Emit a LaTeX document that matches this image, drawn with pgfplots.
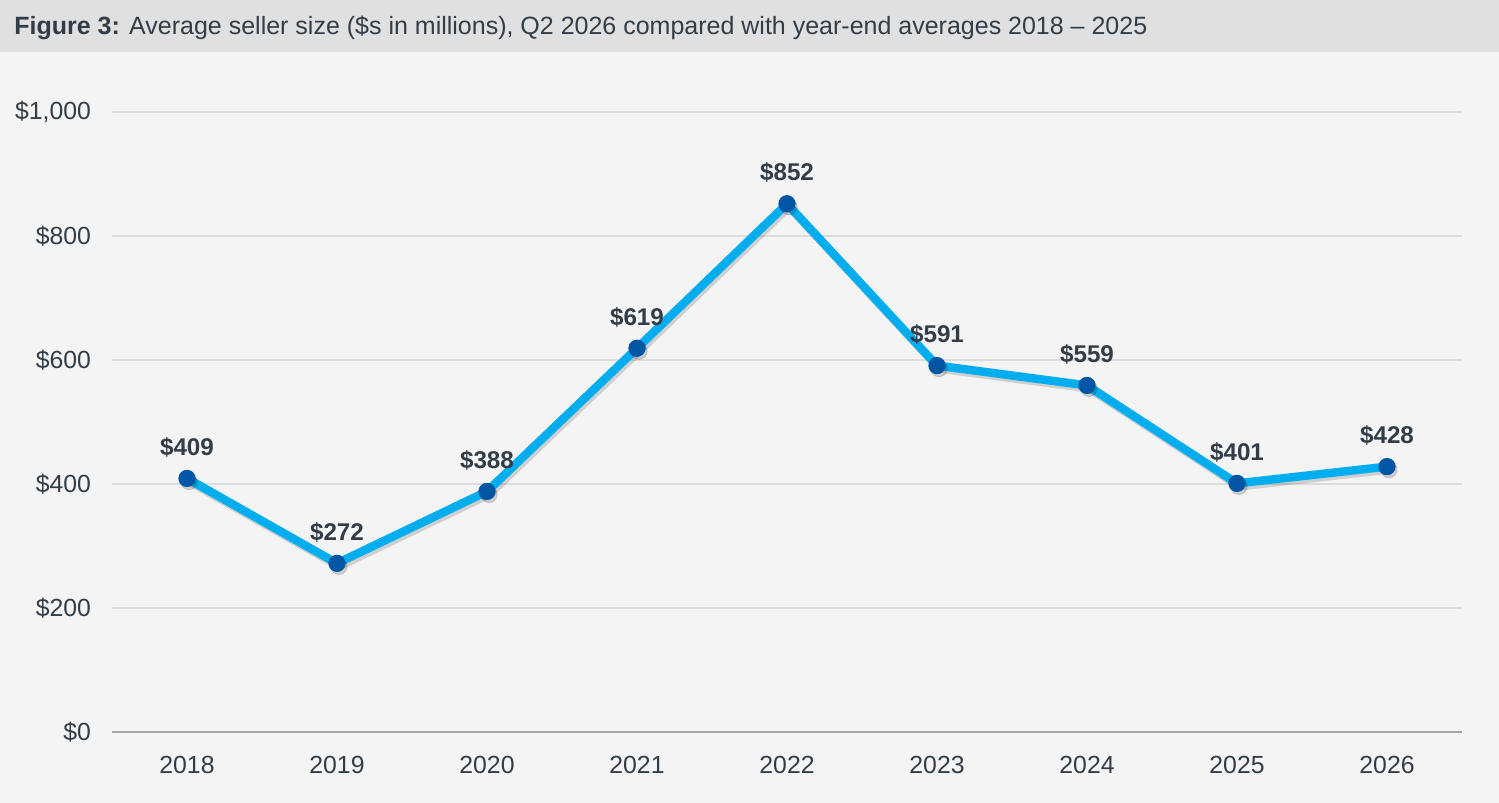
\documentclass[border=0pt]{standalone}
\usepackage{pgfplots}
\pgfplotsset{compat=1.18}
\usepackage{fontspec}
\setmainfont{Liberation Sans}
\definecolor{bg}{HTML}{F4F4F4}
\definecolor{band}{HTML}{E0E0E0}
\definecolor{txt}{HTML}{333D47}
\definecolor{grid}{HTML}{DCDCDC}
\definecolor{axl}{HTML}{A6A6A6}
\definecolor{lineblue}{HTML}{00AEEF}
\definecolor{markblue}{HTML}{0055A4}
\begin{document}
\begin{tikzpicture}[x=1pt,y=1pt]
\fill[bg] (0,0) rectangle (749.5,401.5);
\fill[band] (0,375.5) rectangle (749.5,401.5);
\path[use as bounding box] (0,0) rectangle (749.5,401.5);
\node[anchor=west,text=txt,font=\fontsize{12.5}{14}\selectfont,inner sep=0pt] at (7,387.5)
  {\textbf{Figure 3:} Average seller size (\$s in millions), Q2 2026 compared with year-end averages 2018 – 2025};
\begin{axis}[
  at={(56pt,35.5pt)}, anchor=south west,
  scale only axis, width=675pt, height=310pt,
  xmin=-0.5, xmax=8.5, ymin=0, ymax=1000,
  clip=false,
  axis line style={draw=none},
  axis x line*=bottom,
  axis y line*=left,
  xtick={0,...,8},
  xticklabels={2018,2019,2020,2021,2022,2023,2024,2025,2026},
  ytick={0,200,400,600,800,1000},
  yticklabels={\$0,\$200,\$400,\$600,\$800,{\$1,000}},
  ymajorgrids, grid style={draw=grid, line width=0.6pt},
  major tick length=0pt,
  tick label style={text=txt, font=\fontsize{12.4}{14}\selectfont},
  yticklabel style={xshift=-7pt},
  xticklabel style={yshift=-8.5pt},
  /pgf/number format/assume math mode=true,
  nodes near coords={\$\pgfmathprintnumber[assume math mode=true]{\pgfplotspointmeta}},
  every node near coord/.style={text=txt, font=\bfseries\fontsize{12.1}{14}\selectfont, anchor=center, yshift=15.5pt},
]
\addplot[draw=axl, line width=0.8pt, forget plot, nodes near coords={}] coordinates {(-0.5,0) (8.5,0)};
\addplot[draw=black, opacity=0.15, line width=4.2pt, xshift=1pt, yshift=-1.5pt, mark=*, mark size=4.1pt, mark options={fill=black,draw=black,line width=0.4pt}, nodes near coords={}, forget plot] coordinates {
(0,409) (1,272) (2,388) (3,619) (4,852) (5,591) (6,559) (7,401) (8,428)};
\addplot[draw=lineblue, line width=4.2pt, mark=*, mark size=4.1pt, mark options={fill=markblue, draw=markblue, line width=0.4pt}] coordinates {
(0,409) (1,272) (2,388) (3,619) (4,852) (5,591) (6,559) (7,401) (8,428)};
\end{axis}
\end{tikzpicture}
\end{document}
